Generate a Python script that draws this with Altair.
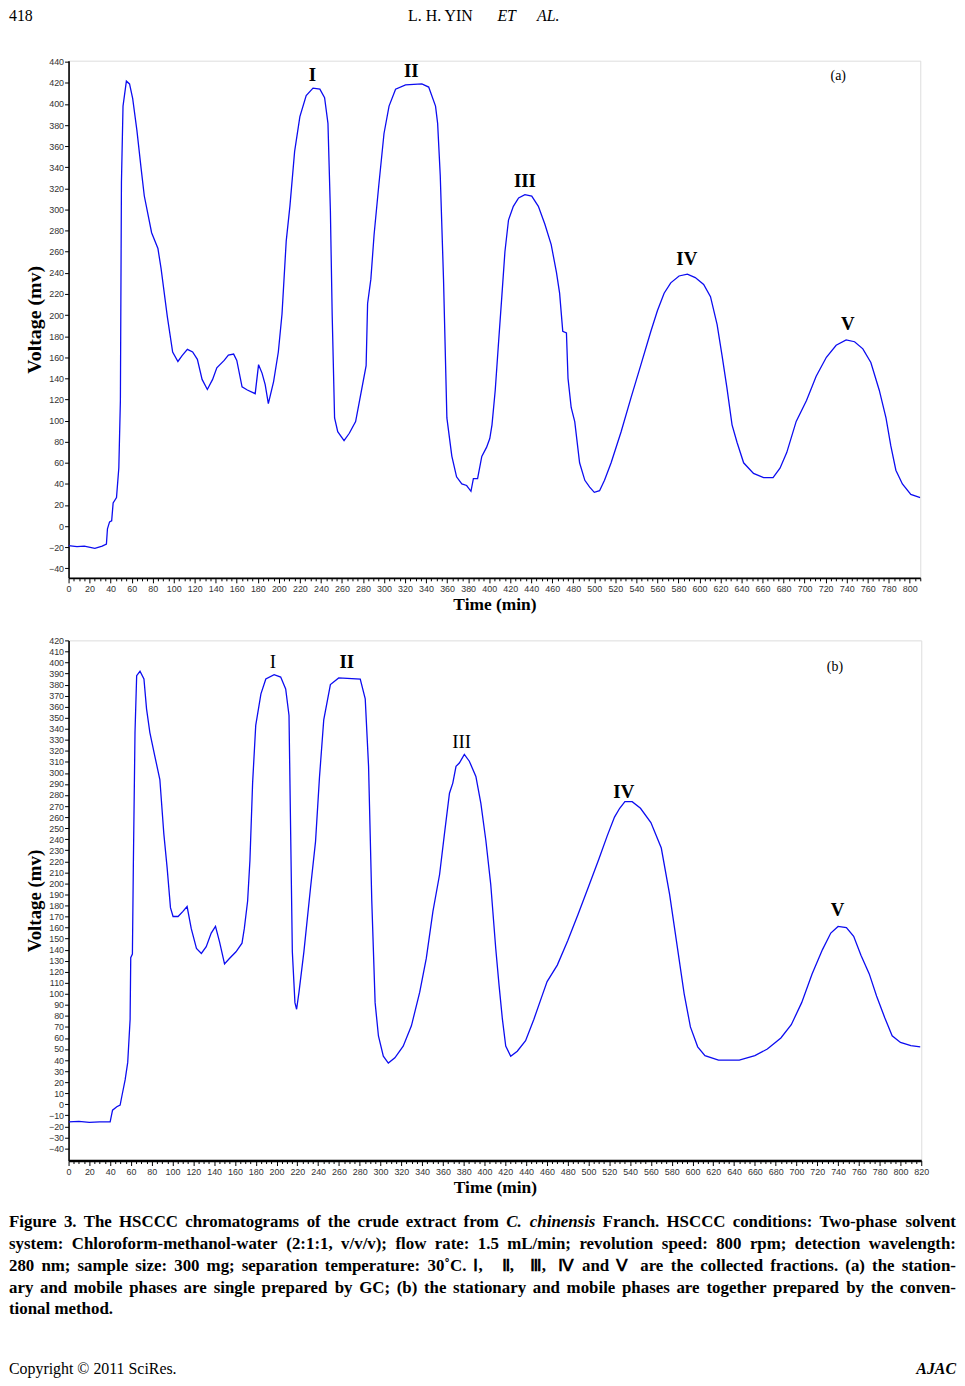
import altair as alt
import pandas as pd

# ---------------- data ----------------
a_time = [0, 8, 15, 25, 32, 36, 37, 39, 41, 42.4, 45.6, 47.8, 49.3, 50.3, 51.8, 55, 58, 61, 65, 69, 72, 76, 79, 85, 88,
          94, 99, 104, 108, 113, 118, 122.5, 127, 132, 137, 141, 148, 152, 157, 160, 165, 170, 177.5, 180.7, 184, 187,
          190, 195, 199.5, 203, 207, 210.5, 215, 220, 226, 232.5, 239, 243.5, 246.7, 249, 250.7, 253, 256, 262, 267,
          273, 278, 283, 284.4, 287.5, 290.6, 295, 300, 304.8, 311, 320.5, 336, 342.5, 349, 351, 353.5, 356.6, 359.8,
          364.5, 369, 374, 378.6, 382.7, 385, 389, 393, 397.5, 400.6, 402.7, 405.8, 409, 412, 415, 418.4, 423, 428,
          434, 440.5, 446.8, 453, 459, 464, 467, 470, 473.5, 475, 478, 481.4, 486, 491, 495.6, 500, 505, 509.7, 516,
          525.5, 535, 544, 553.8, 560, 566.4, 572.7, 580.6, 588.5, 596, 604, 610.5, 616.8, 621.5, 626, 631, 635.7,
          642, 651.4, 661, 670, 676.6, 683, 692, 701.8, 711, 720.7, 730, 739.5, 747.5, 755.4, 763, 771, 777.4, 782,
          786.8, 793, 801, 810]
a_volt = [-18.5, -19.5, -19, -21, -19, -17, -2.5, 4, 5, 22, 27, 55, 119, 326, 398, 421.6, 419, 405, 375, 339, 313,
          293, 278, 263, 244, 198, 165, 156, 161.6, 167.5, 165, 158, 139, 129.5, 139, 150, 157, 162, 163, 157, 132,
          129, 125.5, 153, 145, 134, 116, 137, 165, 201, 270, 303, 355, 388, 408, 415, 414, 406, 381.6, 299.5, 201,
          102.5, 89.5, 81, 88, 99, 125.5, 152, 211, 234, 276.5, 322.5, 372, 398, 414, 418, 419, 416, 398, 381.6,
          332, 234, 102.5, 66.4, 46.7, 40, 38.5, 33, 45, 45, 66, 74.6, 83, 96, 129, 175, 217, 260, 290, 303, 311,
          314, 312.6, 303, 286, 266.7, 240.4, 220.7, 184.6, 183, 140, 112.4, 99, 60, 43.4, 37, 32, 33.6, 43.4, 60,
          89.4, 122, 151.8, 184.6, 204, 220.7, 230.5, 237, 238.8, 235.5, 229, 217.4, 191, 161.6, 132, 96, 79.5,
          60, 50, 46, 46, 54.9, 69.7, 99.2, 119, 142, 160, 171.4, 176.4, 174.7, 168, 155, 128.8, 102.5, 76,
          53, 40, 30, 27]

b_time = [0, 10, 20, 30, 40, 42.3, 46.4, 49.6, 51.2, 54.4, 56.9, 59.2, 59.8, 61.4, 62.3, 63.9, 65.5, 68.7, 72.5, 75,
          78.2, 83, 87.8, 91.6, 94.8, 98, 100.5, 105.3, 110, 114, 118, 123, 127.7, 132.4, 137.2, 141.3, 145.2, 150,
          154.7, 161, 166.8, 169, 172.2, 174.4, 177, 180, 185, 189.7, 197.7, 204, 208.8, 212, 213.6, 215.2, 217.7,
          219.3, 221.6, 226.3, 232.7, 237.5, 241.3, 245.4, 251.8, 259.8, 280.5, 285.3, 288.5, 291.6, 294.8, 298,
          302.7, 307.5, 313.8, 321.8, 329.7, 337.7, 344, 350.4, 356.8, 361.5, 366.3, 369.5, 372.6, 375.8, 380.6,
          385.4, 391.7, 396.5, 401.3, 406, 410.8, 414, 417.2, 420.4, 425.2, 431.5, 439.5, 447.5, 455.5, 460.2, 470,
          480, 490, 500, 510, 518, 525, 530, 535, 542, 550, 560, 570, 578, 585, 592, 598, 605, 612, 625, 645, 660,
          672, 685, 695, 705, 715, 725, 733, 740, 748, 755, 762, 770, 777, 785, 792, 800, 810, 819]
b_volt = [-16, -15.5, -16.5, -16, -16, -5.4, -2.3, -0.7, 7, 22, 37.9, 77, 132.7, 135.9, 215, 336.5, 388, 392, 385,
          358, 336.5, 315, 294, 245, 214, 178, 170, 170, 174.6, 179, 159, 141, 136.5, 142.7, 155, 161, 147, 127, 132,
          138, 145.8, 159, 184, 220.5, 291, 343, 371.6, 385, 389, 386.8, 376, 352, 245, 138, 92, 86, 101.5, 138, 196,
          237.8, 296, 348, 380, 386, 385, 367, 306, 184, 92, 61.8, 43.5, 37.3, 42, 52.6, 71, 101.5, 132, 174.6, 208,
          245, 281.6, 290.8, 306, 309, 316.7, 310.6, 296.8, 272.4, 238.8, 199, 141, 107.6, 77, 52.6, 43.5, 48, 57.5,
          77, 98.6, 111, 126, 148, 172, 197, 222, 243, 260, 268, 274, 274, 268, 255, 232, 190, 145, 100, 70, 52, 44,
          40, 40, 44, 50, 60, 72, 92, 118, 140, 155, 161, 160, 152, 135, 118, 98, 78, 62, 56, 53, 52]

peak_names = ["I", "II", "III", "IV", "V"]
a_label_time = [232, 326, 434, 588, 741]
a_label_volt = [427, 431, 327, 253, 191]
b_label_time = [196.5, 267.5, 378, 534, 739.5]
b_label_volt = [400.5, 400, 328, 283, 176]
b_label_bold = [False, True, False, True, True]

a_x_ticks = [v * 5 for v in range(0, 163)]      # 0..810, labelled every 20
a_y_ticks = list(range(-40, 441, 20))
b_x_ticks = [v * 5 for v in range(0, 165)]      # 0..820, labelled every 20
b_y_ticks = list(range(-40, 421, 10))

header_page = "418"
header_authors = "L. H. YIN"
header_etal = ["ET", "AL."]

caption_lines = [
    "Figure 3. The HSCCC chromatograms of the crude extract from C. chinensis Franch. HSCCC conditions: Two-phase solvent",
    "system: Chloroform-methanol-water (2:1:1, v/v/v); flow rate: 1.5 mL/min; revolution speed: 800 rpm; detection wavelength:",
    "280 nm; sample size: 300 mg; separation temperature: 30˚C. Ⅰ, Ⅱ, Ⅲ, Ⅳ and Ⅴ are the collected fractions. (a) the station-",
    "ary and mobile phases are single prepared by GC; (b) the stationary and mobile phases are together prepared by the conven-",
    "tional method.",
]
caption_italic = {(0, 10), (0, 11)}   # "C." "chinensis"
footer_left = "Copyright © 2011 SciRes."
footer_right = "AJAC"

# ---------------- helpers ----------------
BLUE = "#0c0cf0"
SERIF = "Liberation Serif"
SANS = "Liberation Sans"

W = {' ': 250, '!': 333, '(': 333, ')': 333, ',': 250, '-': 333, '.': 250, '/': 278, ':': 333, ';': 333,
     '˚': 333, '©': 747,
     'A': 722, 'B': 667, 'C': 722, 'D': 722, 'E': 667, 'F': 611, 'G': 778, 'H': 778, 'I': 389, 'J': 500,
     'K': 778, 'L': 667, 'M': 944, 'N': 722, 'O': 778, 'P': 611, 'Q': 778, 'R': 722, 'S': 556, 'T': 667,
     'U': 722, 'V': 722, 'W': 1000, 'X': 722, 'Y': 722, 'Z': 667,
     'a': 500, 'b': 556, 'c': 444, 'd': 556, 'e': 444, 'f': 333, 'g': 500, 'h': 556, 'i': 278, 'j': 333,
     'k': 556, 'l': 278, 'm': 833, 'n': 556, 'o': 500, 'p': 556, 'q': 556, 'r': 444, 's': 389, 't': 333,
     'u': 556, 'v': 500, 'w': 722, 'x': 500, 'y': 500, 'z': 444,
     'Ⅰ': 1000, 'Ⅱ': 1000, 'Ⅲ': 1000, 'Ⅳ': 1000, 'Ⅴ': 1000}


def text_width(s, fs):
    return sum(W.get(c, 500) for c in s) * fs / 1000.0


def text_layer(rows, **mark):
    df = pd.DataFrame(rows, columns=["txt", "px", "py"])
    return alt.Chart(df).mark_text(**mark).encode(
        x=alt.X("px:Q", scale=None),
        y=alt.Y("py:Q", scale=None),
        text="txt:N",
    )


def x_axis(vals, domain_w):
    return alt.Axis(
        values=vals, labelExpr="datum.value % 20 === 0 ? datum.label : ''",
        tickSize={"condition": {"test": "datum.value % 20 === 0", "value": 5}, "value": 3},
        tickColor="black", domainColor="black", domainWidth=domain_w, tickWidth=1,
        labelFont=SANS, labelFontSize=9, labelColor="#333", labelPadding=2,
        labelOverlap=False, labelFlush=False, labelBound=False, grid=False,
        title="Time (min)", titleFont=SERIF, titleFontWeight="bold", titleFontSize=17.5,
        titleColor="black", titlePadding=2)


def y_axis(vals, tsize):
    return alt.Axis(
        values=vals, tickSize=4, tickColor="black", domainColor="black", domainWidth=1.6,
        labelFont=SANS, labelFontSize=9, labelColor="#333", labelPadding=1,
        labelOverlap=False, labelFlush=False, labelBound=False, grid=False,
        title="Voltage (mv)", titleFont=SERIF, titleFontWeight="bold", titleFontSize=tsize,
        titleColor="black", titlePadding=4)


def enc(xdom, ydom, xt, yt, ytsize, dom_w, xf="t", yf="v"):
    return dict(
        x=alt.X(f"{xf}:Q", scale=alt.Scale(domain=xdom, nice=False, zero=False), axis=x_axis(xt, dom_w)),
        y=alt.Y(f"{yf}:Q", scale=alt.Scale(domain=ydom, nice=False, zero=False), axis=y_axis(yt, ytsize)),
    )


def panel(time, volt, e):
    df = pd.DataFrame({"t": time, "v": volt})
    return alt.Chart(df).mark_line(color=BLUE, strokeWidth=1.3, clip=True).encode(**e)


def labels(names, ts, vs, bold, size, e):
    df = pd.DataFrame({"n": names, "t": ts, "v": vs})
    return alt.Chart(df).mark_text(font=SERIF, fontWeight="bold" if bold else "normal", fontSize=size,
                                   color="black", baseline="middle", align="center").encode(
        text="n:N", **e)


# ---------------- panel (a) ----------------
A_W, A_H = 858, 521
enc_a = enc([0, 810], [-49, 441], a_x_ticks, a_y_ticks, 20, 1.8)
line_a = panel(a_time, a_volt, enc_a)
lab_a = labels(peak_names, a_label_time, a_label_volt, True, 19, enc_a)
tag_a = labels(["(a)"], [732], [426], False, 14, enc_a)

HDR_FS = 16
hdr_y = -53
header = [
    text_layer([[header_page, -60, hdr_y], [header_authors, 342, hdr_y]],
               font=SERIF, fontSize=HDR_FS, align="left", baseline="top", color="black"),
    text_layer([[header_etal[0], 432, hdr_y], [header_etal[1], 472, hdr_y]],
               font=SERIF, fontSize=HDR_FS, fontStyle="italic", align="left", baseline="top", color="black"),
]
chart_a = alt.layer(line_a, lab_a, tag_a, *header).properties(width=A_W, height=A_H)

# ---------------- panel (b) ----------------
B_W, B_H = 859, 524
enc_b = enc([0, 820], [-51, 420], b_x_ticks, b_y_ticks, 19, 2.6)
line_b = panel(b_time, b_volt, enc_b)
bold_idx = [i for i, b in enumerate(b_label_bold) if b]
norm_idx = [i for i, b in enumerate(b_label_bold) if not b]
lab_b1 = labels([peak_names[i] for i in bold_idx], [b_label_time[i] for i in bold_idx],
                [b_label_volt[i] for i in bold_idx], True, 19, enc_b)
lab_b2 = labels([peak_names[i] for i in norm_idx], [b_label_time[i] for i in norm_idx],
                [b_label_volt[i] for i in norm_idx], False, 19, enc_b)
tag_b = labels(["(b)"], [737], [396], False, 14, enc_b)

# caption (justified, word by word)
CAP_FS = 17
CAP_LEFT, CAP_RIGHT = -60, 894
cap_y0, cap_dy = 586, 22
normal_rows, italic_rows = [], []
for li, line in enumerate(caption_lines):
    words = line.split(" ")
    widths = [text_width(wd, CAP_FS) for wd in words]
    last = li == len(caption_lines) - 1
    if not last and len(words) > 1:
        gap = (CAP_RIGHT - CAP_LEFT - sum(widths)) / (len(words) - 1)
    else:
        gap = 0.25 * CAP_FS
    x = CAP_LEFT
    for wi, (wd, ww) in enumerate(zip(words, widths)):
        row = [wd, x, cap_y0 + li * cap_dy]
        (italic_rows if (li, wi) in caption_italic else normal_rows).append(row)
        x += ww + gap

caption = [
    text_layer(normal_rows, font=SERIF, fontSize=CAP_FS, fontWeight="bold", align="left",
               baseline="middle", color="black"),
    text_layer(italic_rows, font=SERIF, fontSize=CAP_FS, fontWeight="bold", fontStyle="italic",
               align="left", baseline="middle", color="black"),
]
foot_y = 734
footer = [
    text_layer([[footer_left, CAP_LEFT, foot_y]], font=SERIF, fontSize=16, align="left",
               baseline="middle", color="black"),
    text_layer([[footer_right, CAP_RIGHT, foot_y]], font=SERIF, fontSize=16, fontWeight="bold",
               fontStyle="italic", align="right", baseline="middle", color="black"),
]

chart_b = alt.layer(line_b, lab_b1, lab_b2, tag_b, *caption, *footer).properties(width=B_W, height=B_H)

chart = alt.vconcat(chart_a, chart_b, spacing=22).properties(
    padding={"top": -6, "bottom": -4, "left": 0, "right": 0}
).configure_view(stroke=None).configure_axis(labelOverlap=False).configure(background="white")

chart.save("out.html", embed_options={"renderer": "svg", "actions": False})
